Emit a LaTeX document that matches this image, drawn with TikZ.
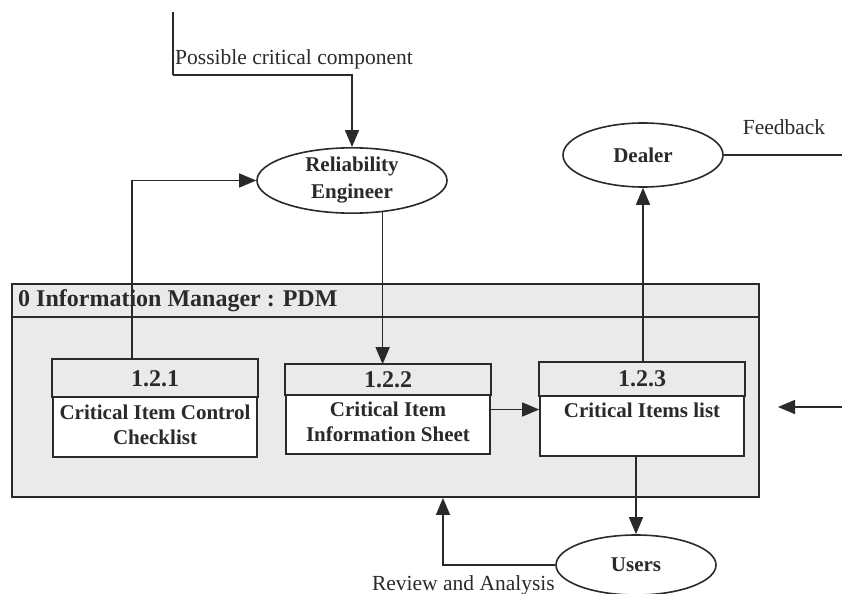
\documentclass[tikz,border=0pt]{standalone}
\usepackage{fontspec}
\setmainfont{Liberation Serif}
\usetikzlibrary{arrows.meta,calc,shapes.geometric}
\definecolor{boxgray}{HTML}{EAEAEA}
\definecolor{ink}{HTML}{2A2A2A}
\begin{document}
\begin{tikzpicture}[x=1bp,y=-1bp,
  flow/.style={draw=ink, line width=1.4bp, -{Triangle[length=17bp,width=14bp]}},
  plain/.style={draw=ink, line width=1.4bp},
  actor/.style={ellipse, draw=ink, line width=1.6bp, fill=white, inner sep=0pt, align=center, text=ink,
    font=\bfseries\fontsize{21bp}{27bp}\selectfont},
  procbox/.style={rectangle, draw=ink, line width=1.7bp, fill=white, inner sep=0pt},
  hdrtext/.style={inner sep=0pt, text=ink, font=\bfseries\fontsize{24bp}{26bp}\selectfont},
  bodytext/.style={inner sep=0pt, align=center, text=ink, font=\bfseries\fontsize{21bp}{24.5bp}\selectfont},
  lbl/.style={inner sep=0pt, text=ink, font=\fontsize{21.5bp}{24bp}\selectfont}
]
\useasboundingbox (0,0) rectangle (842,594);
\fill[white] (0,0) rectangle (842,594);

% outer PDM container
\node[rectangle, draw=ink, line width=1.9bp, fill=boxgray, inner sep=0pt,
      minimum width=747bp, minimum height=213bp] (pdm) at (385.5,390.5) {};
\draw[ink, line width=1.5bp] ($(pdm.north west)+(0,34)$) -- ($(pdm.north east)+(0,34)$);
\node[hdrtext, anchor=west] (pdmtitle) at (18,301) {0 Information Manager : PDM};

% process boxes
\node[procbox, minimum width=204bp, minimum height=97bp] (p1) at (155,408.5) {};
\node[procbox, minimum width=204bp, minimum height=89bp] (p2) at (388,409.5) {};
\node[procbox, minimum width=204bp, minimum height=93bp] (p3) at (642,409.5) {};
\foreach \p/\h in {p1/38, p2/31, p3/34}{
  \filldraw[fill=boxgray, draw=ink, line width=1.7bp] (\p.north west) rectangle ($(\p.north east)+(0,\h)$);
}
\node[hdrtext] (p1id) at ($(p1.north)+(0,20)$) {1.2.1};
\node[hdrtext] (p2id) at ($(p2.north)+(0,16)$) {1.2.2};
\node[hdrtext] (p3id) at ($(p3.north)+(0,17)$) {1.2.3};
\node[bodytext, anchor=north] (p1body) at ($(p1.north)+(0,46)$) {Critical Item Control\\Checklist};
\node[bodytext, anchor=north] (p2body) at ($(p2.north)+(0,38)$) {Critical Item\\Information Sheet};
\node[bodytext, anchor=north] (p3body) at ($(p3.north)+(0,41)$) {Critical Items list};

% external entities
\node[actor, minimum width=190bp, minimum height=64bp] (re) at (352,180.5) {Reliability\\Engineer};
\node[actor, minimum width=160bp, minimum height=64bp] (dealer) at (643,155) {Dealer};
\node[actor, minimum width=160bp, minimum height=60bp] (users) at (636,565) {Users};

% free ends
\coordinate (src) at (173,12);
\coordinate (srcbend) at (173,75);
\coordinate (fbend) at (842,155);
\coordinate (inR) at (842,407);
\coordinate (inTip) at (778,407);
\coordinate (rvx) at (443,0);

% connectors
\draw[plain] (src) -- (srcbend);
\draw[flow] (srcbend) -| (re.north);
\node[lbl, anchor=base west] (pcc) at (175,65) {Possible critical component};

\draw[flow] ([xshift=-23bp]p1.north) |- (re.west);
\draw[flow] (re.-46) -- (re.-46 |- p2.north);
\draw[flow] (p2.east) -- (p2.east -| p3.west);
\draw[flow] (dealer.south |- p3.north) -- (dealer.south);
\draw[plain] (dealer.east) -- (fbend);
\node[lbl] (fb) at (784,127) {Feedback};
\draw[flow] (inR) -- (inTip);
\draw[flow] (users.north |- p3.south) -- (users.north);
\draw[flow] (users.west) -| (rvx |- pdm.south);
\node[lbl, anchor=base east] (rva) at (555,590) {Review and Analysis};
\end{tikzpicture}
\end{document}
